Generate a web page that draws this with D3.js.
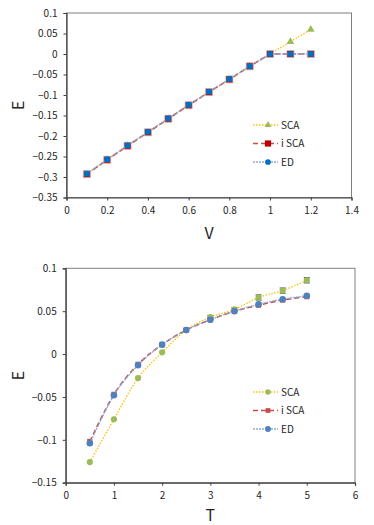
<!DOCTYPE html>
<html>
<head>
<meta charset="utf-8">
<script src="https://cdn.jsdelivr.net/npm/d3@7"></script>
<style>
  body { margin: 0; background: #fff; }
  text { font-family: "Noto Sans CJK JP", "Liberation Sans", sans-serif; fill: #262626; }
</style>
</head>
<body>
<svg id="fig" width="374" height="525"></svg>
<script>
// top panel: E vs V
const vVals = [0.1, 0.2, 0.3, 0.4, 0.5, 0.6, 0.7, 0.8, 0.9, 1.0, 1.1, 1.2];
const vSCA  = [-0.293, -0.258, -0.224, -0.191, -0.158, -0.125, -0.093, -0.062, -0.030, 0, 0.030, 0.060];
const viSCA = [-0.293, -0.258, -0.224, -0.191, -0.158, -0.125, -0.093, -0.062, -0.030, 0, 0, 0];
const vED   = [-0.292, -0.257, -0.223, -0.190, -0.157, -0.124, -0.092, -0.061, -0.030, 0, 0, 0];
const vXTicks = [0, 0.2, 0.4, 0.6, 0.8, 1, 1.2, 1.4];
const vYTicks = [0.1, 0.05, 0, -0.05, -0.1, -0.15, -0.2, -0.25, -0.3, -0.35];

// bottom panel: E vs T
const tVals = [0.5, 1.0, 1.5, 2.0, 2.5, 3.0, 3.5, 4.0, 4.5, 5.0];
const tSCA  = [-0.126, -0.076, -0.028, 0.002, 0.028, 0.043, 0.052, 0.066, 0.074, 0.086];
const tSCAerr = [0, 0, 0, 0, 0, 0.002, 0.002, 0.003, 0.003, 0.003];
const tiSCA = [-0.102, -0.047, -0.012, 0.011, 0.028, 0.040, 0.050, 0.057, 0.063, 0.067];
const tED   = [-0.104, -0.048, -0.013, 0.011, 0.028, 0.040, 0.050, 0.058, 0.064, 0.068];
const tXTicks = [0, 1, 2, 3, 4, 5, 6];
const tYTicks = [0.1, 0.05, 0, -0.05, -0.1, -0.15];

const legendNames = ["SCA", "i SCA", "ED"];

const svg = d3.select('#fig');

function panel(opt) {
  const x = d3.scaleLinear().domain(opt.xDomain).range([opt.left, opt.right]);
  const y = d3.scaleLinear().domain(opt.yDomain).range([opt.bottom, opt.top]);
  const g = svg.append('g');

  // frame
  g.append('rect')
    .attr('x', opt.left).attr('y', opt.top)
    .attr('width', opt.right - opt.left).attr('height', opt.bottom - opt.top)
    .attr('fill', 'none').attr('stroke', '#7f7f7f').attr('stroke-width', 1);

  const xAxis = d3.axisBottom(x).tickValues(opt.xTicks).tickSize(3).tickPadding(6).tickFormat(d3.format(''));
  const yAxis = d3.axisLeft(y).tickValues(opt.yTicks).tickSize(3).tickPadding(6).tickFormat(d3.format(''));
  const xa = g.append('g').attr('transform', 'translate(0,' + opt.bottom + ')').call(xAxis);
  const ya = g.append('g').attr('transform', 'translate(' + opt.left + ',0)').call(yAxis);
  [xa, ya].forEach(a => {
    a.select('.domain').attr('stroke', '#404040').attr('stroke-width', 1.2);
    a.selectAll('.tick line').attr('stroke', '#404040');
    a.selectAll('.tick text').style('font-size', '10px').attr('fill', '#262626');
  });

  g.append('text').text(opt.xTitle)
    .attr('x', (opt.left + opt.right) / 2).attr('y', opt.bottom + opt.titleGap)
    .attr('text-anchor', 'middle').style('font-size', '16px');
  g.append('text').text('E')
    .attr('transform', 'translate(24,' + ((opt.top + opt.bottom) / 2) + ') rotate(-90)')
    .attr('text-anchor', 'middle').style('font-size', '16px');

  const curve = opt.smooth ? d3.curveCardinal.tension(0) : d3.curveLinear;

  opt.series.forEach(s => {
    const pts = opt.xs.map((v, i) => [v, s.values[i]]);
    g.append('path').datum(pts)
      .attr('fill', 'none').attr('stroke', s.color).attr('stroke-width', s.width)
      .attr('stroke-dasharray', s.dash)
      .attr('d', d3.line().x(d => x(d[0])).y(d => y(d[1])).curve(curve));
    if (s.err) {
      pts.forEach((p, i) => {
        const e = s.err[i];
        if (!e) return;
        g.append('line').attr('x1', x(p[0])).attr('x2', x(p[0]))
          .attr('y1', y(p[1] - e)).attr('y2', y(p[1] + e)).attr('stroke', '#404040');
        [p[1] - e, p[1] + e].forEach(v => {
          g.append('line').attr('x1', x(p[0]) - 3).attr('x2', x(p[0]) + 3)
            .attr('y1', y(v)).attr('y2', y(v)).attr('stroke', '#404040');
        });
      });
    }
    g.selectAll(null).data(pts).enter().append('path')
      .attr('transform', d => 'translate(' + x(d[0]) + ',' + y(d[1]) + ')')
      .attr('d', d3.symbol().type(s.symbol).size(s.size))
      .attr('fill', s.mcolor).attr('stroke', s.mstroke || 'none').attr('stroke-width', 0.8);
  });

  // legend
  opt.series.forEach((s, i) => {
    const ly = opt.legendY + i * 18.5;
    const lx = 253;
    g.append('line').attr('x1', lx).attr('x2', lx + 25).attr('y1', ly).attr('y2', ly)
      .attr('stroke', s.color).attr('stroke-width', s.width).attr('stroke-dasharray', s.dash);
    g.append('path').attr('transform', 'translate(' + (lx + 15) + ',' + ly + ')')
      .attr('d', d3.symbol().type(s.legendSymbol || s.symbol).size(s.size * 0.8))
      .attr('fill', s.mcolor);
    g.append('text').text(legendNames[i]).attr('x', lx + 28).attr('y', ly)
      .attr('dy', '0.35em').style('font-size', '10px');
  });
}

panel({
  xDomain: [0, 1.4], yDomain: [-0.35, 0.1],
  left: 66.5, right: 351.5, top: 13, bottom: 197.5,
  xTicks: vXTicks, yTicks: vYTicks, xTitle: 'V', titleGap: 41, xs: vVals, smooth: false,
  legendY: 125,
  series: [
    { values: vSCA, color: '#ffc000', width: 1.3, dash: '1.5,1.5', symbol: d3.symbolTriangle, size: 26, mcolor: '#9bbb59' },
    { values: viSCA, color: '#c0504d', width: 1.6, dash: '5,3', symbol: d3.symbolSquare, size: 48, mcolor: '#c00000', mstroke: '#e6a3a1' },
    { values: vED, color: '#8eaad8', width: 1.3, dash: '2,1', symbol: d3.symbolSquare, size: 32, mcolor: '#0070c0', legendSymbol: d3.symbolCircle }
  ]
});

panel({
  xDomain: [0, 6], yDomain: [-0.15, 0.1],
  left: 65.7, right: 355, top: 268.3, bottom: 482.7,
  xTicks: tXTicks, yTicks: tYTicks, xTitle: 'T', titleGap: 38, xs: tVals, smooth: true,
  legendY: 392,
  series: [
    { values: tSCA, err: tSCAerr, color: '#ffc000', width: 1.3, dash: '1.5,1.5', symbol: d3.symbolCircle, size: 30, mcolor: '#9bbb59' },
    { values: tiSCA, color: '#c0504d', width: 1.6, dash: '5,3', symbol: d3.symbolSquare, size: 28, mcolor: '#c0504d' },
    { values: tED, color: '#8eaad8', width: 1.3, dash: '2,1', symbol: d3.symbolCircle, size: 34, mcolor: '#4f81bd' }
  ]
});
</script>
</body>
</html>
